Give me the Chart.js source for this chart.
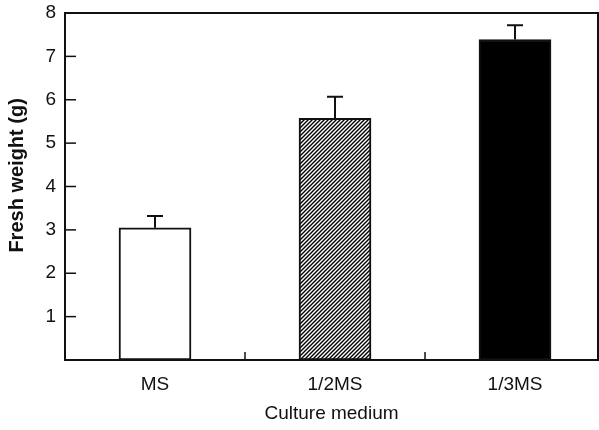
<!DOCTYPE html>
<html lang="en">
<head>
    <meta charset="UTF-8">
    <title>Fresh weight by culture medium</title>
    <script src="https://cdn.jsdelivr.net/npm/chart.js"></script>
    <style>
        html, body { margin: 0; padding: 0; background: #fff; }
        .chart-container { width: 599px; height: 430px; position: relative; }
    </style>
</head>
<body>
    <div class="chart-container">
        <canvas id="weightChart"></canvas>
    </div>

    <script>
// data
const categories = ['MS', '1/2MS', '1/3MS'];
const positions = [1, 2, 3];
const freshWeight = [3.05, 5.57, 7.39];
const errorUp = [0.27, 0.50, 0.33];
const yTickValues = [1, 2, 3, 4, 5, 6, 7, 8];

const FONT = "'Liberation Sans', Arial, Helvetica, sans-serif";
const INK = '#111';

// diagonal hatch for the 1/2MS bar
function makeHatch() {
    const c = document.createElement('canvas');
    c.width = 4;
    c.height = 4;
    const g = c.getContext('2d');
    g.fillStyle = '#fff';
    g.fillRect(0, 0, 4, 4);
    g.strokeStyle = '#000';
    g.lineWidth = 1.4;
    g.beginPath();
    g.moveTo(-1, 5); g.lineTo(5, -1);
    g.moveTo(-1, 1); g.lineTo(1, -1);
    g.moveTo(3, 5); g.lineTo(5, 3);
    g.stroke();
    return g.createPattern(c, 'repeat');
}

const ctx = document.getElementById('weightChart').getContext('2d');
const hatch = makeHatch();

// frame, inward ticks and error bars
const decorations = {
    id: 'decorations',
    afterDatasetsDraw(chart) {
        const { ctx, chartArea: a, scales } = chart;
        const x = scales.x, y = scales.y;
        ctx.save();
        ctx.strokeStyle = INK;
        ctx.lineCap = 'butt';

        // error bars (upper only)
        ctx.lineWidth = 2;
        freshWeight.forEach((v, i) => {
            const px = x.getPixelForValue(positions[i]);
            const y0 = y.getPixelForValue(v);
            const y1 = y.getPixelForValue(v + errorUp[i]);
            ctx.beginPath();
            ctx.moveTo(px, y0);
            ctx.lineTo(px, y1);
            ctx.moveTo(px - 8, y1);
            ctx.lineTo(px + 8, y1);
            ctx.stroke();
        });

        // ticks pointing into the plot
        ctx.lineWidth = 1.5;
        yTickValues.forEach(v => {
            const py = y.getPixelForValue(v);
            ctx.beginPath();
            ctx.moveTo(a.left, py);
            ctx.lineTo(a.left + 11, py);
            ctx.stroke();
        });
        positions.slice(0, -1).forEach(p => {
            const px = x.getPixelForValue(p + 0.5);
            ctx.beginPath();
            ctx.moveTo(px, a.bottom);
            ctx.lineTo(px, a.bottom - 8);
            ctx.stroke();
        });

        // box round the plot
        ctx.lineWidth = 2;
        ctx.strokeRect(a.left, a.top, a.right - a.left, a.bottom - a.top);
        ctx.restore();
    }
};

new Chart(ctx, {
    type: 'bar',
    data: {
        datasets: [{
            data: positions.map((p, i) => ({ x: p, y: freshWeight[i] })),
            backgroundColor: ['#fff', hatch, '#000'],
            borderColor: INK,
            borderWidth: 2,
            borderSkipped: false,
            barThickness: 72
        }]
    },
    options: {
        responsive: true,
        maintainAspectRatio: false,
        animation: false,
        layout: { padding: { top: 13, right: 1, left: 0, bottom: 0 } },
        plugins: {
            legend: { display: false },
            tooltip: { enabled: false }
        },
        scales: {
            x: {
                type: 'linear',
                offset: false,
                min: 0.5,
                max: 3.461,
                afterBuildTicks: s => { s.ticks = positions.map(p => ({ value: p })); },
                afterFit: s => { s.height = 70; s.paddingLeft = 0; s.paddingRight = 0; },
                grid: { display: false, drawTicks: false },
                border: { display: false },
                ticks: {
                    color: INK,
                    padding: 13,
                    maxRotation: 0,
                    font: { family: FONT, size: 19 },
                    callback: v => categories[positions.indexOf(v)] || ''
                },
                title: {
                    display: true,
                    text: 'Culture medium',
                    color: INK,
                    padding: { top: 0, bottom: 5 },
                    font: { family: FONT, size: 19 }
                }
            },
            y: {
                min: 0,
                max: 8,
                afterBuildTicks: s => { s.ticks = yTickValues.map(v => ({ value: v })); },
                afterFit: s => { s.width = 65; s.paddingTop = 0; s.paddingBottom = 0; },
                grid: { display: false, drawTicks: false },
                border: { display: false },
                ticks: {
                    color: INK,
                    padding: 9,
                    font: { family: FONT, size: 19 }
                },
                title: {
                    display: true,
                    // leading spaces nudge the rotated title upward like the original
                    text: '    Fresh weight (g)',
                    color: INK,
                    padding: { top: 5, bottom: 0 },
                    font: { family: FONT, size: 20, weight: 'bold' }
                }
            }
        }
    },
    plugins: [decorations]
});
    </script>
</body>
</html>
